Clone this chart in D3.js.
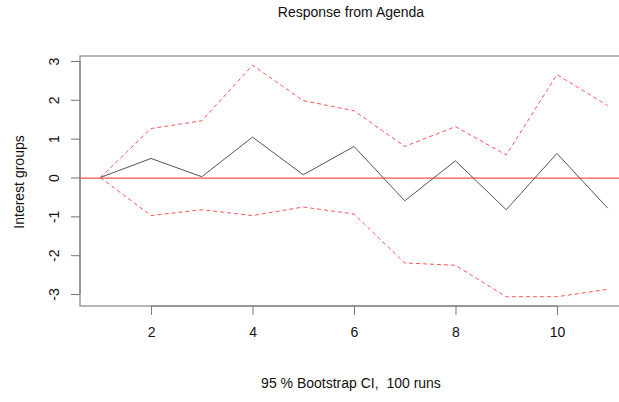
<!DOCTYPE html>
<html><head><meta charset="utf-8">
<script src="https://cdn.jsdelivr.net/npm/d3@7"></script>
<style>body{margin:0;background:#fff}svg{display:block}text{font-family:"Liberation Sans",Arial,sans-serif;fill:#111}</style>
</head><body>
<script>
const steps = [1,2,3,4,5,6,7,8,9,10,11];
const irf   = [0,0.49,0.02,1.04,0.07,0.80,-0.60,0.43,-0.83,0.62,-0.79];
const upper = [0,1.26,1.46,2.89,1.98,1.72,0.80,1.31,0.58,2.65,1.85];
const lower = [0,-0.98,-0.83,-0.98,-0.76,-0.94,-2.20,-2.26,-3.07,-3.07,-2.88];
const xTicks = [2,4,6,8,10];
const yTicks = [-3,-2,-1,0,1,2,3];
const title = "Response from Agenda";
const xLabel = "95 % Bootstrap CI,  100 runs";
const yLabel = "Interest groups";

const W=619,H=402;
const L=80,R=628,T=56,B=306;
const FS="14px";
const svg=d3.select("body").append("svg").attr("width",W).attr("height",H);

const ext=(a,b)=>{const d=(b-a)*0.04;return [a-d,b+d];};
const x=d3.scaleLinear().domain(ext(d3.min(steps),d3.max(steps))).range([L,R]);
const all=irf.concat(upper,lower);
const y=d3.scaleLinear().domain(ext(d3.min(all),d3.max(all))).range([B,T]);

const lineGen=d3.line().x((d,i)=>x(steps[i])).y(d=>y(d));

// box
svg.append("rect").attr("x",L).attr("y",T).attr("width",R-L).attr("height",B-T)
 .attr("fill","none").attr("stroke","#888").attr("stroke-width",1.2);

// zero reference line
svg.append("rect").attr("x",L).attr("y",Math.round(y(0))-0.5).attr("width",R-L).attr("height",1.2)
 .attr("fill","#ff4a4a").attr("stroke","none");
// CI
[upper,lower].forEach(s=>svg.append("path").datum(s).attr("d",lineGen).attr("fill","none")
 .attr("stroke","#ff5555").attr("stroke-width",1).attr("stroke-dasharray","4,3"));
// irf
svg.append("path").datum(irf).attr("d",lineGen).attr("fill","none").attr("stroke","#555").attr("stroke-width",1);

// x axis
const xa=svg.append("g").attr("transform",`translate(0,${B})`)
 .call(d3.axisBottom(x).tickValues(xTicks).tickSize(9).tickSizeOuter(0).tickPadding(12));
xa.select(".domain").attr("d",`M${x(xTicks[0])},0H${x(xTicks[xTicks.length-1])}`).attr("stroke","#777");
xa.selectAll(".tick line").attr("stroke","#777");
xa.selectAll("text").style("font-size",FS).style("font-family","Liberation Sans, Arial, sans-serif").attr("fill","#111");

// y axis
const ya=svg.append("g").attr("transform",`translate(${L},0)`)
 .call(d3.axisLeft(y).tickValues(yTicks).tickSize(9).tickSizeOuter(0).tickFormat(d=>String(d)));
ya.select(".domain").attr("d",`M0,${y(yTicks[0])}V${y(yTicks[yTicks.length-1])}`).attr("stroke","#777");
ya.selectAll(".tick line").attr("stroke","#777");
ya.selectAll("text").attr("x",null).attr("dy",null)
 .attr("transform","translate(-26,0) rotate(-90)").attr("text-anchor","middle").attr("dominant-baseline","central")
 .style("font-size",FS).style("font-family","Liberation Sans, Arial, sans-serif").attr("fill","#111");

svg.append("text").attr("x",351).attr("y",17).attr("text-anchor","middle").style("font-size",FS).text(title);
svg.append("text").attr("x",351).attr("y",388).attr("text-anchor","middle").style("font-size",FS)
 .style("white-space","pre").attr("xml:space","preserve").text(xLabel);
svg.append("text").attr("transform",`translate(19,182) rotate(-90)`).attr("text-anchor","middle")
 .attr("dominant-baseline","central").style("font-size",FS).text(yLabel);
</script>
</body></html>
